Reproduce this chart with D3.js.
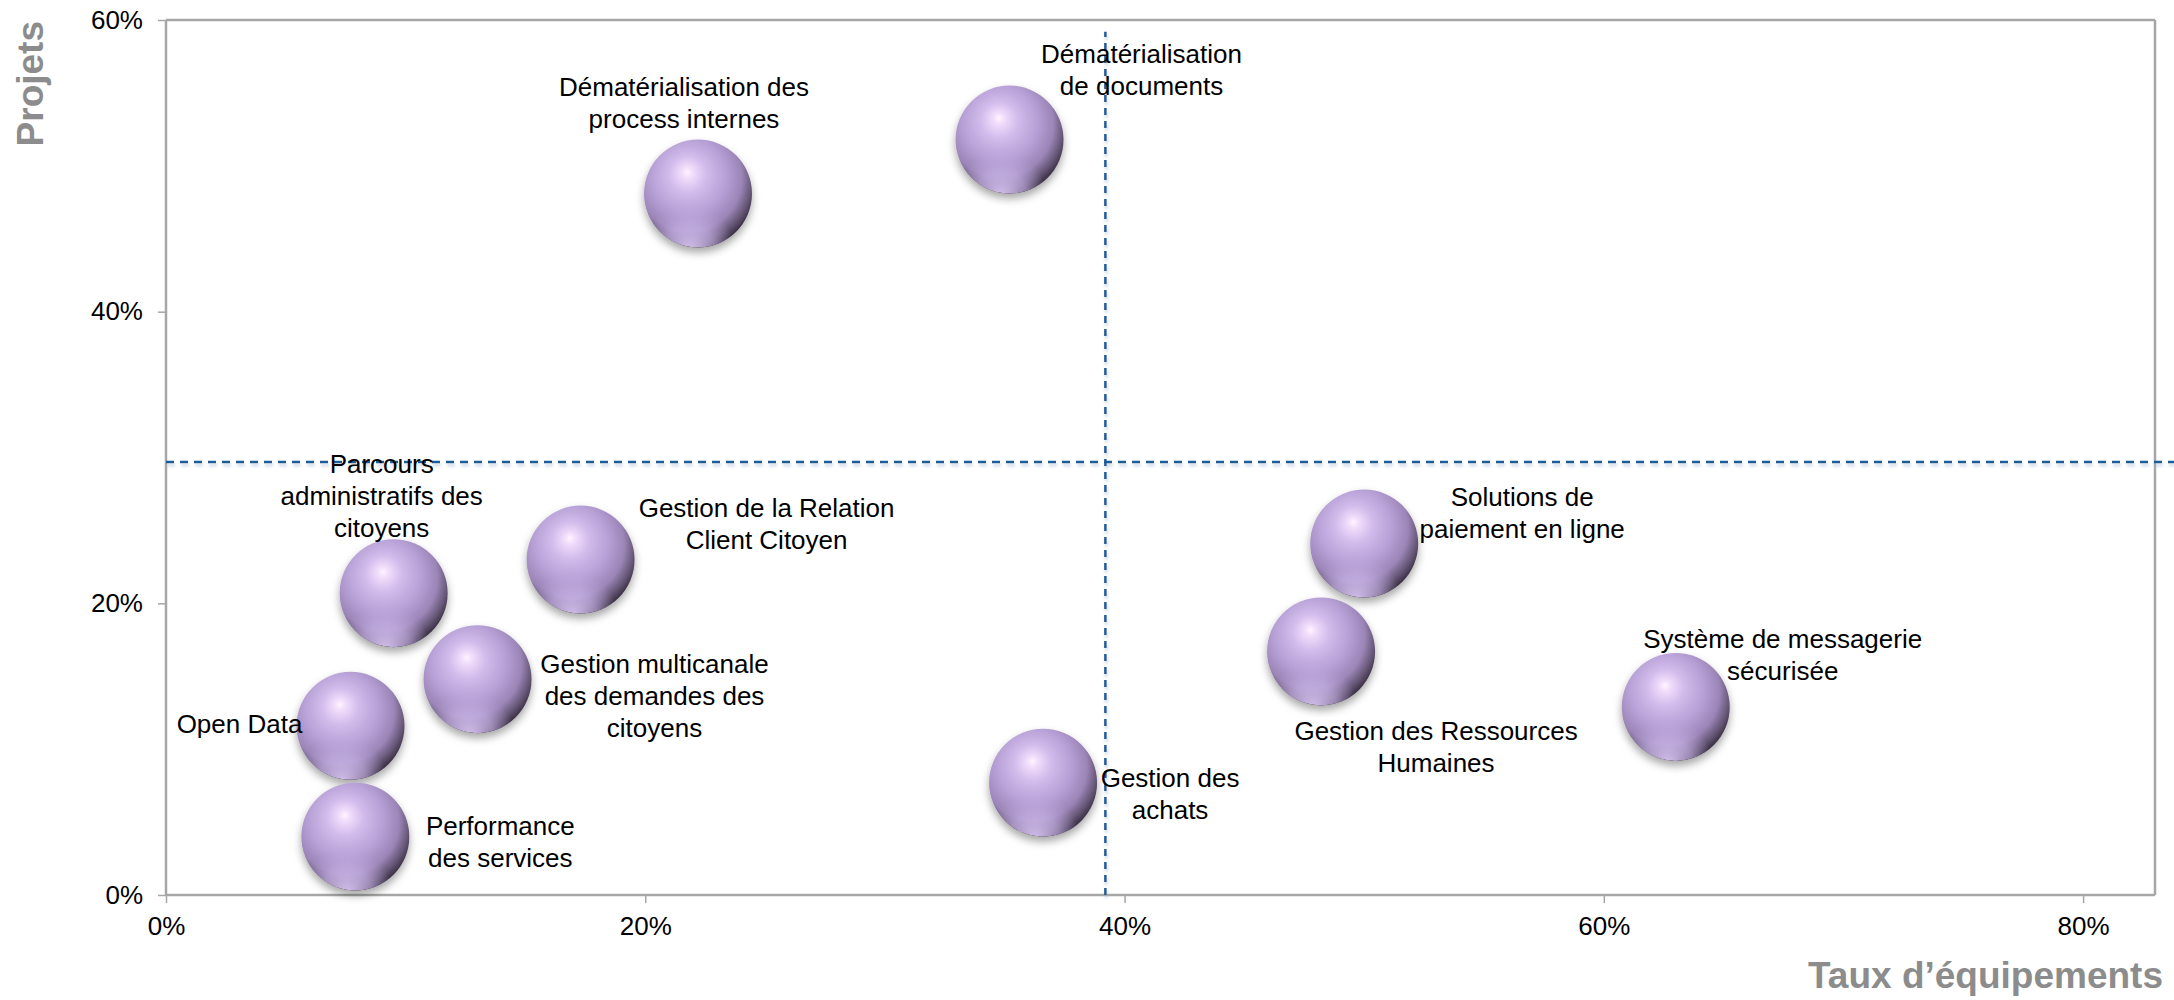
<!DOCTYPE html>
<html><head><meta charset="utf-8">
<script src="https://cdn.jsdelivr.net/npm/d3@7"></script>
<style>
body{margin:0;background:#fff}
svg{display:block}
text{font-family:"Liberation Sans",Arial,sans-serif}
</style>
</head><body>
<svg id="chart" width="2174" height="1000"></svg>
<script>
// ---------- data ----------
const categories = [
  "Dématérialisation des process internes",
  "Dématérialisation de documents",
  "Parcours administratifs des citoyens",
  "Gestion de la Relation Client Citoyen",
  "Gestion multicanale des demandes des citoyens",
  "Open Data",
  "Performance des services",
  "Gestion des achats",
  "Solutions de paiement en ligne",
  "Gestion des Ressources Humaines",
  "Système de messagerie sécurisée"
];
const tauxEquipements = [0.222, 0.352, 0.095, 0.173, 0.130, 0.077, 0.079, 0.366, 0.500, 0.482, 0.630];
const projets          = [0.481, 0.518, 0.207, 0.230, 0.148, 0.116, 0.040, 0.077, 0.241, 0.167, 0.129];
const labelLines = [
  ["Dématérialisation des", "process internes"],
  ["Dématérialisation", "de documents"],
  ["Parcours", "administratifs des", "citoyens"],
  ["Gestion de la Relation", "Client Citoyen"],
  ["Gestion multicanale", "des demandes des", "citoyens"],
  ["Open Data"],
  ["Performance", "des services"],
  ["Gestion des", "achats"],
  ["Solutions de", "paiement en ligne"],
  ["Gestion des Ressources", "Humaines"],
  ["Système de messagerie", "sécurisée"]
];
const xTicks = [0, 0.2, 0.4, 0.6, 0.8];
const yTicks = [0, 0.2, 0.4, 0.6];
const xDomain = [0, 0.83];
const yDomain = [0, 0.6];
const refX = 0.392;      // vertical dashed line
const refY = 0.297;      // horizontal dashed line
const xTitle = "Taux d’équipements";
const yTitle = "Projets";

// ---------- layout (pixels, not data) ----------
const labelOffsets = [
  [-14, -107], [132, -86], [-12, -129], [186, -52], [177, -15],
  [-111, -2], [145, -11], [127, -5], [158, -47], [115, 80], [107, -68]
];
const M = {left:166, right:2155, top:20, bottom:895};
const R = 54;
const fontSize = 26, lineH = 32;

const svg = d3.select("#chart");
const x = d3.scaleLinear().domain(xDomain).range([M.left, M.right]);
const y = d3.scaleLinear().domain(yDomain).range([M.bottom, M.top]);

const defs = svg.append("defs");
const g1 = defs.append("radialGradient").attr("id","sphere")
  .attr("cx",0.42).attr("cy",0.38).attr("r",0.68).attr("fx",0.40).attr("fy",0.30);
[[0,"#fff4ff"],[0.08,"#f0dcfb"],[0.25,"#d2bcec"],[0.5,"#b7a1d6"],[0.72,"#9c86b8"],[0.86,"#645574"],[1,"#221a28"]]
  .forEach(s=>g1.append("stop").attr("offset",s[0]).attr("stop-color",s[1]));
const g2 = defs.append("radialGradient").attr("id","rim")
  .attr("cx",0.42).attr("cy",1.02).attr("r",0.42);
[[0,"#dcc8f4",0.95],[0.55,"#cbb6ea",0.6],[1,"#bba6dc",0]]
  .forEach(s=>g2.append("stop").attr("offset",s[0]).attr("stop-color",s[1]).attr("stop-opacity",s[2]));
const f = defs.append("filter").attr("id","shadow").attr("x","-30%").attr("y","-30%").attr("width","160%").attr("height","170%");
f.append("feDropShadow").attr("dx",0).attr("dy",5).attr("stdDeviation",4)
  .attr("flood-color","#000").attr("flood-opacity",0.35);
const f2 = defs.append("filter").attr("id","lshadow").attr("filterUnits","userSpaceOnUse")
  .attr("x",0).attr("y",0).attr("width",2174).attr("height",1000);
f2.append("feDropShadow").attr("dx",1).attr("dy",3).attr("stdDeviation",1.6)
  .attr("flood-color","#9db6cf").attr("flood-opacity",0.55);
defs.append("clipPath").attr("id","circClip").append("circle").attr("r",R);

// frame: top and right border
const axisColor = "#a6a6a6";
svg.append("line").attr("x1",M.left).attr("x2",M.right).attr("y1",M.top).attr("y2",M.top)
  .attr("stroke",axisColor).attr("stroke-width",2.5);
svg.append("line").attr("x1",M.right).attr("x2",M.right).attr("y1",M.top).attr("y2",M.bottom)
  .attr("stroke",axisColor).attr("stroke-width",2.5);

// axes
const xAxis = svg.append("g").attr("transform",`translate(0,${M.bottom})`)
  .call(d3.axisBottom(x).tickValues(xTicks).tickFormat(d3.format(".0%")).tickSize(8).tickPadding(14));
const yAxis = svg.append("g").attr("transform",`translate(${M.left},0)`)
  .call(d3.axisLeft(y).tickValues(yTicks).tickFormat(d3.format(".0%")).tickSize(8).tickPadding(15));
[xAxis,yAxis].forEach(a=>{
  a.select(".domain").attr("stroke",axisColor).attr("stroke-width",2.5);
  a.selectAll(".tick line").attr("stroke",axisColor).attr("stroke-width",1.5);
  a.selectAll("text").attr("font-size",fontSize).attr("fill","#000")
   .attr("font-family","'Liberation Sans',Arial,sans-serif");
});
xAxis.select(".domain").attr("d",`M${M.left},0H${M.right}`);
yAxis.select(".domain").attr("d",`M0,${M.top}V${M.bottom}`);

// reference dashed lines
const ref = svg.append("g").attr("filter","url(#lshadow)");
ref.append("line").attr("x1",x(0)).attr("x2",x(0.838)).attr("y1",y(refY)).attr("y2",y(refY))
  .attr("stroke","#1f5b99").attr("stroke-width",2.5).attr("stroke-dasharray","8,6");
ref.append("line").attr("x1",x(refX)).attr("x2",x(refX)).attr("y1",y(0)).attr("y2",y(0.592))
  .attr("stroke","#1f5b99").attr("stroke-width",2.5).attr("stroke-dasharray","7,6");

// bubbles
const data = categories.map((c,i)=>({c, x:tauxEquipements[i], y:projets[i], lines:labelLines[i], off:labelOffsets[i]}));
const b = svg.append("g").selectAll("g").data(data).join("g")
  .attr("transform",d=>`translate(${x(d.x)},${y(d.y)})`);
b.append("circle").attr("r",R).attr("fill","url(#sphere)").attr("filter","url(#shadow)");
b.append("circle").attr("r",R).attr("fill","url(#rim)").attr("clip-path","url(#circClip)");

// labels
const lab = svg.append("g").selectAll("text").data(data).join("text")
  .attr("text-anchor","middle").attr("font-size",fontSize).attr("fill","#000")
  .attr("x",d=>x(d.x)+d.off[0]).attr("y",d=>y(d.y)+d.off[1]+9);
lab.selectAll("tspan").data(d=>d.lines.map(t=>({t, x:x(d.x)+d.off[0]}))).join("tspan")
  .attr("x",d=>d.x).attr("dy",(d,i)=>i===0?0:lineH).text(d=>d.t);

// axis titles
svg.append("text").attr("x",2163).attr("y",988).attr("text-anchor","end")
  .attr("font-size",37).attr("font-weight","bold").attr("fill","#8c8c8c").text(xTitle);
svg.append("text").attr("transform","translate(43,21) rotate(-90)").attr("text-anchor","end")
  .attr("font-size",37).attr("font-weight","bold").attr("fill","#8c8c8c").text(yTitle);
</script>
</body></html>
